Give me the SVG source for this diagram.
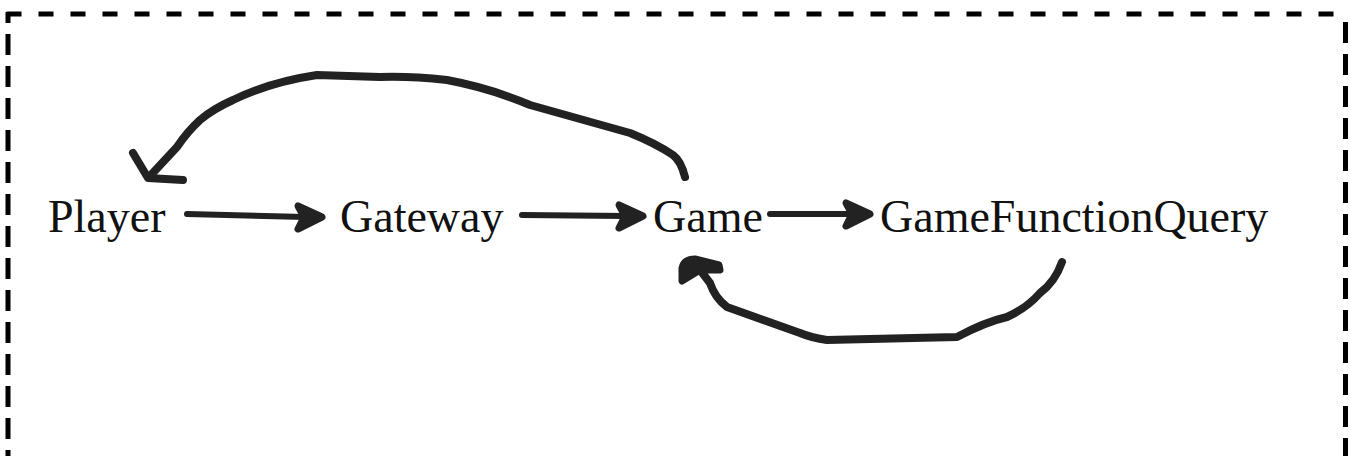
<svg xmlns="http://www.w3.org/2000/svg" width="1357" height="456" viewBox="0 0 1357 456">
  <defs>
    <style>
      .border { stroke: #000; stroke-width: 5; fill: none; stroke-linecap: butt; }
      .label { font-family: "Liberation Serif", "Times New Roman", serif; font-size: 46px; fill: #111; }
      .stroke { stroke: #222; stroke-width: 8; fill: none; stroke-linecap: round; stroke-linejoin: round; }
      .head { stroke: #222; stroke-width: 7; fill: #222; stroke-linejoin: round; stroke-linecap: round; }
    </style>
  </defs>
  <rect width="1357" height="456" fill="#fff"/>

  <g id="frame">
    <line class="border" x1="5.5" y1="14" x2="1345" y2="14" stroke-dasharray="15 17" stroke-dashoffset="-1"/>
    <line class="border" x1="8" y1="12" x2="8" y2="456" stroke-dasharray="21 11" stroke-dashoffset="10"/>
    <line class="border" x1="1345.5" y1="22" x2="1345.5" y2="456" stroke-dasharray="21 11"/>
  </g>

  <g id="connectors">
    <path class="stroke" style="stroke-width:6" d="M187,214 L305,217"/>
    <path class="head" d="M322,217 L298,206 L304,217 L298,229 Z"/>
    <path class="stroke" style="stroke-width:6" d="M522,215 L626,216"/>
    <path class="head" d="M643,216 L619,205 L625,216 L619,228 Z"/>
    <path class="stroke" style="stroke-width:6" d="M770,214 L852,214"/>
    <path class="head" d="M870,214 L846,203 L852,214 L846,226 Z"/>
    <path class="stroke" d="M685,177 Q681,161 673,155 Q655,143 630,133 L530,105 Q490,88 447,80 Q410,76 380,77 L317,75 Q270,82 233,100 Q213,109 200,120 Q187,132 177,147 L150,176"/>
    <path class="stroke" d="M133,153 L148,178 L183,180"/>
    <path class="stroke" d="M1062,262 Q1055,282 1040,293 Q1027,308 1007,317 Q985,322 957,337 L827,340 Q812,338 800,333 L727,307 Q715,298 710,283 L694,262"/>
    <path class="head" d="M682,281 L682,268 Q684,259 695,259 L719,265 L720,270 L700,270 Z"/>
  </g>

  <g id="node-player"><text class="label" x="48" y="232">Player</text></g>
  <g id="node-gateway"><text class="label" x="340" y="232">Gateway</text></g>
  <g id="node-game"><text class="label" x="653" y="232">Game</text></g>
  <g id="node-gamefunctionquery"><text class="label" x="880" y="232">GameFunctionQuery</text></g>
</svg>
